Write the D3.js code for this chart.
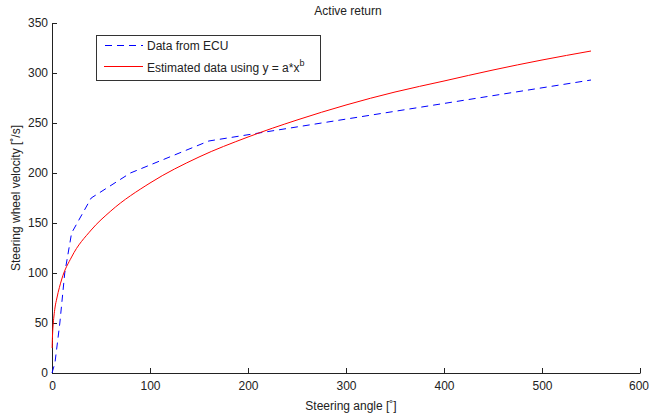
<!DOCTYPE html>
<html>
<head>
<meta charset="utf-8">
<title>Active return</title>
<style>
  body { margin: 0; background: #fff; }
  text { font-family: 'Liberation Sans', Arial, sans-serif; fill: #222; }
</style>
<script src="https://d3js.org/d3.v7.min.js"></script>
</head>
<body>
<div id="container"></div>
<script>
  // data
  const ecuAngle    = [0, 3, 8, 13, 20, 40, 80, 160, 550];
  const ecuVelocity = [0, 10, 50, 100, 140, 175, 200, 232, 293];

  const fitAngle    = [0.15, 0.5, 1, 2, 3, 5, 10, 20, 40, 60, 100, 150, 200, 250, 300, 350, 400, 450, 500, 550];
  const fitVelocity = [25, 37, 46, 57, 65, 75, 94, 116, 143, 162, 190, 216, 236, 253, 268, 281, 292, 303, 313, 322];

  const xTicks = [0, 100, 200, 300, 400, 500, 600];
  const yTicks = [0, 50, 100, 150, 200, 250, 300, 350];

  const width = 649, height = 416,
        margin = { top: 23, right: 9, bottom: 43, left: 52 };

  const svg = d3.select("#container").append("svg")
      .attr("width", width)
      .attr("height", height);

  const x = d3.scaleLinear().domain([0, 600]).range([margin.left, width - margin.right]);
  const y = d3.scaleLinear().domain([0, 350]).range([height - margin.bottom, margin.top]);

  // axes, ticks pointing inward like matlab
  const xAxis = svg.append("g")
      .attr("transform", `translate(0,${height - margin.bottom})`)
      .call(d3.axisBottom(x).tickValues(xTicks).tickSizeInner(-5).tickSizeOuter(0).tickPadding(8));
  const yAxis = svg.append("g")
      .attr("transform", `translate(${margin.left},0)`)
      .call(d3.axisLeft(y).tickValues(yTicks).tickSizeInner(-5).tickSizeOuter(0).tickPadding(4));
  [xAxis, yAxis].forEach(g => {
    g.select(".domain").attr("stroke", "#222");
    g.selectAll(".tick line").attr("stroke", "#222");
    g.selectAll(".tick text").style("font-size", "12px").attr("fill", "#222")
      .style("font-family", "'Liberation Sans', Arial, sans-serif");
  });
  // last label sits right at the window edge
  xAxis.selectAll(".tick text").filter(d => d === 600).attr("dx", "-1.5");

  // lines
  const ecu = ecuAngle.map((a, i) => [a, ecuVelocity[i]]);
  const fit = fitAngle.map((a, i) => [a, fitVelocity[i]]);
  const line = d3.line().x(d => x(d[0])).y(d => y(d[1]));

  svg.append("path").datum(ecu)
      .attr("d", line)
      .attr("fill", "none")
      .attr("stroke", "#0000ff")
      .attr("stroke-width", 1)
      .attr("stroke-dasharray", "7,5");

  svg.append("path").datum(fit)
      .attr("d", d3.line().curve(d3.curveMonotoneX).x(d => x(d[0])).y(d => y(d[1])))
      .attr("fill", "none")
      .attr("stroke", "#ff0000")
      .attr("stroke-width", 1);

  // title + labels
  svg.append("text")
      .attr("x", (margin.left + width - margin.right) / 2 + 2)
      .attr("y", 15)
      .attr("text-anchor", "middle")
      .style("font-size", "12px")
      .text("Active return");

  svg.append("text")
      .attr("x", (margin.left + width - margin.right) / 2 + 5)
      .attr("y", 410)
      .attr("text-anchor", "middle")
      .style("font-size", "12px")
      .text("Steering angle [˚]");

  svg.append("text")
      .attr("transform", `translate(20,${(margin.top + height - margin.bottom) / 2}) rotate(-90)`)
      .attr("text-anchor", "middle")
      .style("font-size", "12px")
      .text("Steering wheel velocity [˚/s]");

  // legend
  const legend = svg.append("g");
  legend.append("rect")
      .attr("x", 96.5).attr("y", 35.5)
      .attr("width", 224).attr("height", 45)
      .attr("fill", "#fff")
      .attr("stroke", "#333");

  legend.append("line")
      .attr("x1", 105).attr("x2", 143).attr("y1", 45.5).attr("y2", 45.5)
      .attr("stroke", "#0000ff").attr("stroke-dasharray", "7,5");
  legend.append("line")
      .attr("x1", 104).attr("x2", 143).attr("y1", 66.5).attr("y2", 66.5)
      .attr("stroke", "#ff0000");

  legend.append("text")
      .attr("x", 147).attr("y", 50)
      .style("font-size", "12px")
      .text("Data from ECU");

  const est = legend.append("text")
      .attr("x", 147).attr("y", 72)
      .style("font-size", "12px");
  est.append("tspan").text("Estimated data using y = a*x");
  est.append("tspan").attr("dy", -6).style("font-size", "9px").text("b");
</script>
</body>
</html>
